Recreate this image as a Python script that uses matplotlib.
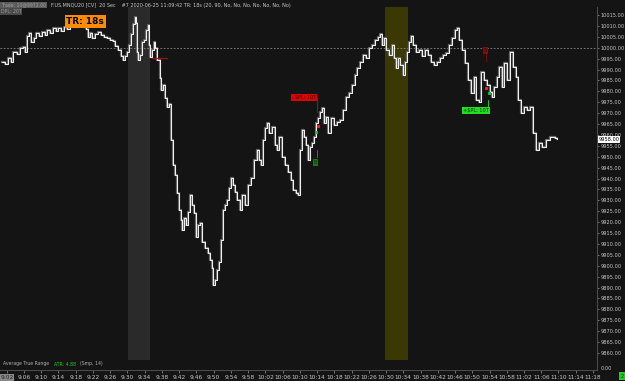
import matplotlib
matplotlib.use("Agg")
import matplotlib.pyplot as plt

# last price path: minutes after 9:00 and price
minutes = [0.9, 1.6, 2.3, 3.0, 3.4, 4.4, 5.1, 5.8, 6.2, 6.7, 7.2, 7.6, 8.3, 8.8, 9.5,
           10.2, 10.9, 11.3, 12.0, 12.7, 13.4, 13.9, 14.6, 15.3, 16.0, 16.7, 17.6, 18.5,
           19.5, 20.4, 20.8, 21.3, 21.8, 22.5, 23.2, 23.9, 24.6, 25.3, 26.0, 26.6, 27.1,
           27.8, 28.5, 29.0, 29.4, 29.9, 30.4, 30.8, 31.3, 31.8, 32.0, 32.2, 32.4, 32.9,
           33.4, 33.8, 34.3, 34.8, 35.0, 35.2, 35.7, 36.2, 36.4, 36.9, 37.6, 37.8, 38.3,
           38.7, 39.2, 39.7, 40.1, 40.6, 41.0, 41.5, 42.0, 42.4, 42.7, 43.1, 43.6, 44.1,
           44.5, 45.0, 45.4, 45.9, 46.4, 46.8, 47.3, 48.0, 48.7, 49.2, 49.6, 49.9, 50.3,
           50.8, 51.2, 51.7, 52.2, 52.6, 53.1, 53.6, 54.0, 54.5, 55.0, 55.4, 56.1, 56.6,
           57.3, 58.0, 58.7, 59.4, 60.1, 60.5, 61.0, 61.5, 61.9, 62.4, 62.9, 63.5, 64.2,
           64.7, 65.2, 65.9, 66.6, 67.3, 68.0, 68.4, 69.1, 69.6, 70.0, 70.5, 71.0, 71.4,
           71.9, 72.4, 72.8, 73.3, 73.8, 74.2, 74.7, 75.2, 75.6, 76.1, 76.6, 77.2, 77.9,
           78.6, 79.3, 80.0, 80.7, 81.4, 82.1, 82.8, 83.3, 84.0, 84.7, 85.4, 86.0, 86.7,
           87.4, 88.1, 88.6, 89.1, 89.5, 90.0, 90.7, 91.4, 91.8, 92.3, 92.8, 93.2, 93.9,
           94.4, 94.9, 95.3, 95.8, 96.3, 96.9, 97.6, 98.3, 99.0, 99.7, 100.4, 101.1, 101.8,
           102.5, 103.2, 103.9, 104.6, 105.3, 105.9, 106.4, 106.9, 107.6, 108.3, 109.0,
           109.7, 110.4, 110.9, 111.6, 112.0, 112.7, 113.4, 114.1, 114.6, 115.0, 115.7,
           116.2, 116.9, 117.4, 118.1, 118.8, 119.5, 120.2, 120.6, 121.3, 122.0, 122.7,
           123.4, 124.1, 124.8, 125.5, 126.2, 127.1, 128.0, 129.2, 129.7]
prices = [9993.5, 9992.5, 9995.25, 9993.5, 9998.0, 9997.0, 10000.0, 10000.25, 9998.0,
          10005.5, 10006.75, 10002.5, 10004.5, 10006.75, 10005.5, 10007.25, 10005.75,
          10008.0, 10006.75, 10009.0, 10007.75, 10009.0, 10007.75, 10009.5, 10008.5,
          10010.0, 10009.5, 10010.5, 10009.5, 10008.5, 10005.0, 10006.75, 10004.5,
          10006.25, 10007.25, 10005.75, 10005.0, 10004.5, 10003.5, 10003.0, 10000.75,
          9999.0, 9996.25, 9994.5, 9996.25, 9998.0, 10001.25, 10006.25, 10011.0, 10014.0,
          10011.25, 9998.0, 9994.5, 9996.75, 10002.5, 10003.5, 10008.0, 10010.5, 10001.25,
          9995.75, 9999.0, 10002.5, 10000.0, 9994.5, 9986.0, 9980.5, 9983.0, 9977.0,
          9972.75, 9974.25, 9957.75, 9946.25, 9941.5, 9933.5, 9925.5, 9921.0, 9916.5,
          9922.0, 9918.75, 9924.5, 9932.5, 9927.75, 9924.25, 9913.25, 9918.75, 9919.5,
          9911.0, 9908.0, 9905.75, 9902.5, 9899.0, 9891.0, 9893.5, 9898.0, 9901.75,
          9911.75, 9925.5, 9927.75, 9930.0, 9935.5, 9940.25, 9937.0, 9933.75, 9930.0,
          9925.5, 9932.5, 9927.75, 9937.0, 9940.25, 9948.5, 9953.0, 9948.5, 9946.0,
          9957.75, 9963.25, 9965.5, 9960.75, 9963.5, 9955.5, 9953.0, 9959.0, 9949.75,
          9946.25, 9943.0, 9939.25, 9934.75, 9933.25, 9932.5, 9953.0, 9962.25, 9959.0,
          9955.5, 9948.5, 9954.5, 9956.25, 9959.0, 9965.5, 9967.75, 9970.5, 9972.25,
          9965.5, 9968.25, 9960.75, 9967.75, 9964.5, 9966.0, 9966.75, 9971.5, 9977.5,
          9979.25, 9983.0, 9987.5, 9990.75, 9993.5, 9996.5, 9995.25, 10000.0, 10001.25,
          10003.5, 10005.0, 10006.25, 10001.25, 10004.5, 9999.0, 9996.5, 10001.25,
          9995.25, 9990.75, 9995.25, 9992.0, 9987.5, 9993.5, 9998.0, 10002.5, 10005.5,
          10001.25, 9998.0, 9999.0, 9996.25, 9999.0, 9996.5, 9993.5, 9992.0, 9993.5,
          9995.25, 9996.5, 9997.5, 10001.25, 10004.5, 10008.0, 10009.0, 10003.5, 9999.0,
          9993.0, 9985.25, 9979.25, 9986.5, 9976.0, 9975.0, 9989.0, 9985.25, 9983.0,
          9979.5, 9977.5, 9982.0, 9986.5, 9991.0, 9982.0, 9993.0, 9985.25, 9998.0,
          9991.0, 9986.5, 9976.0, 9970.0, 9972.75, 9971.5, 9972.75, 9960.75, 9953.0,
          9956.25, 9954.5, 9957.75, 9959.0, 9958.5, 9958.0]

gray_span = (30.1, 35.2)
olive_span = (89.8, 95.1)
price_ticks = list(range(9860, 10020, 5))
time_ticks = list(range(2, 139, 4))
last_price = 9958.0
ref_level = 10000

BG = "#141414"
W, H = 625, 381


def px(x, y):
    return x / W, 1 - y / H


fig = plt.figure(figsize=(W / 100, H / 100), dpi=100, facecolor=BG)
ax = fig.add_axes([0, 11 / H, 597 / W, 363 / H], facecolor=BG)

span_bottom = 10 / 363
ax.axvspan(*gray_span, ymin=span_bottom, ymax=1, color="#2a2a2a", lw=0, zorder=0)
ax.axvspan(*olive_span, ymin=span_bottom, ymax=1, color="#3a3904", lw=0, zorder=0)
ax.axhline(ref_level, color="#8c8c8c", lw=0.6, ls=(0, (2, 2)), zorder=1)

ax.plot(minutes, prices, drawstyle="steps-post", color="#6a6a6a", lw=1.6, zorder=2)
ax.plot(minutes, prices, drawstyle="steps-post", color="#f4f4f4", lw=0.7, zorder=3)

# trade markers
ax.plot([35.7, 39.2], [9995.3, 9995.3], color="#a01010", lw=0.9, zorder=4)
ax.text(71.0, 9977.2, "-\\$PL: 10T", fontsize=3.6, color="#300000", ha="center", va="center",
        bbox=dict(facecolor="#e00000", edgecolor="none", pad=0.8), zorder=5)
ax.plot([74.0, 74.0], [9977.0, 9970.5], color="#e00000", lw=0.6, zorder=4)
ax.plot([74.2], [9964.0], "s", ms=1.2, color="#ff2020", zorder=5)
ax.plot([73.8], [9961.3], "s", ms=1.2, color="#20c020", zorder=5)
ax.plot([74.0, 74.0], [9953.0, 9950.0], color="#20a020", lw=0.6, zorder=4)
ax.text(73.6, 9947.3, "B", fontsize=3.5, color="#0a300a", ha="center", va="center",
        bbox=dict(facecolor="#117a11", edgecolor="none", pad=0.6), zorder=5)
ax.text(113.1, 9998.7, "S", fontsize=3.5, color="#300000", ha="center", va="center",
        bbox=dict(facecolor="#8a0a0a", edgecolor="none", pad=0.6), zorder=5)
ax.plot([113.2, 113.2], [9997.0, 9994.0], color="#8a0a0a", lw=0.6, zorder=4)
ax.plot([113.2], [9981.5], "s", ms=1.2, color="#ff2020", zorder=5)
ax.plot([113.9], [9979.2], "s", ms=1.2, color="#20c020", zorder=5)
ax.plot([113.7, 113.7], [9976.0, 9972.8], color="#30e030", lw=0.6, zorder=4)
ax.text(110.8, 9971.2, "+\\$PL: 10T", fontsize=3.6, color="#003000", ha="center", va="center",
        bbox=dict(facecolor="#22dd22", edgecolor="none", pad=0.8), zorder=5)

ax.set_xlim(0.43, 138.94)
ax.set_ylim(9852.2, 10018.7)

ax.yaxis.tick_right()
ax.set_yticks(price_ticks)
ax.set_yticklabels([f"{v:.2f}" for v in price_ticks])
ax.set_xticks(time_ticks)
ax.set_xticklabels([f"{9 + m // 60}:{m % 60:02d}" for m in time_ticks])
ax.tick_params(axis="y", colors="#9a9a9a", labelcolor="#c8c8c8", labelsize=3.6,
               length=1.5, width=0.5, pad=1)
ax.tick_params(axis="x", colors="#9a9a9a", labelcolor="#c8c8c8", labelsize=4.2,
               length=2, width=0.5, pad=1.5)
first = ax.get_xticklabels()[0]
first.set_bbox(dict(facecolor="#8a8a8a", edgecolor="none", pad=0.6))
first.set_color("#202020")

for side in ("top", "left"):
    ax.spines[side].set_visible(False)
for side in ("right", "bottom"):
    ax.spines[side].set_color("#4a4a4a")
    ax.spines[side].set_linewidth(0.8)

# last price tag
ax.text(1.003, last_price, f"{last_price:.2f}", transform=ax.get_yaxis_transform(),
        fontsize=3.6, color="black", ha="left", va="center",
        bbox=dict(facecolor="white", edgecolor="none", pad=0.5))

# header texts
fig.text(*px(1, 5), "Trade: 10@9972.00", fontsize=3.3, color="#a0a0a0", va="center",
         bbox=dict(facecolor="#5a5a5a", edgecolor="none", pad=0.5))
fig.text(*px(1, 11.5), "DPL: 20T", fontsize=3.3, color="#a0a0a0", va="center",
         bbox=dict(facecolor="#4a4a4a", edgecolor="none", pad=0.4))
fig.text(*px(51, 5), "F.US.MNQU20 [CV]  20 Sec    #7 2020-06-25 11:09:42 TR: 18s "
         "(20, 90, No, No, No, No, No, No, No)", fontsize=3.5, color="#c8c8c8", va="center")
fig.text(*px(85, 21.5), "TR: 18s", fontsize=6.5, fontweight="bold", color="black",
         ha="center", va="center", bbox=dict(facecolor="#ff8c00", edgecolor="none", pad=1.2))

# ATR pane line
fig.text(*px(3, 364), "Average True Range", fontsize=3.3, color="#b0b0b0", va="center")
fig.text(*px(54, 364), "ATR: 4.88", fontsize=3.3, color="#20d020", va="center")
fig.text(*px(80, 364), "(Smp, 14)", fontsize=3.3, color="#b0b0b0", va="center")
fig.text(*px(601, 368), "0.00", fontsize=3.6, color="#c8c8c8", va="center")
fig.text(*px(622, 376), "2", fontsize=3.5, color="#0a300a", ha="center", va="center",
         bbox=dict(facecolor="#22cc22", edgecolor="none", pad=0.8))

fig.savefig("out.png", dpi=100, facecolor=BG)
